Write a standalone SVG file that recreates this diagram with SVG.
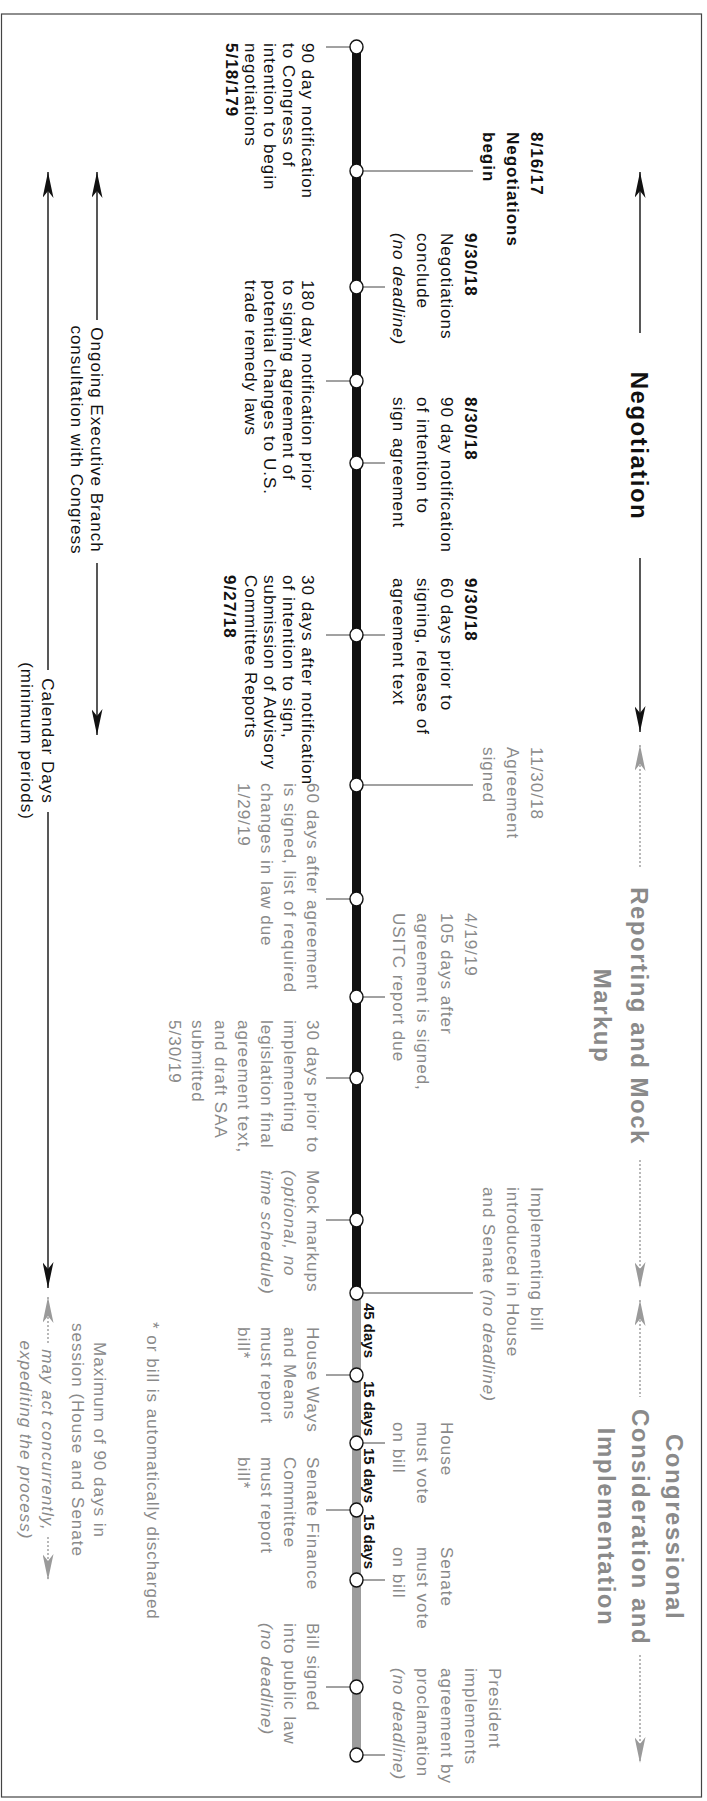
<svg xmlns="http://www.w3.org/2000/svg" width="707" height="1801" viewBox="0 0 707 1801">
<defs>
<style>
text { font-family: "Liberation Sans", Arial, sans-serif; }
.t { font-size: 17px; letter-spacing: 1px; fill: #111; }
.g { fill: #8a8a8a; }
.b { font-weight: bold; }
.i { font-style: italic; }
.ttl { font-size: 24px; font-weight: bold; letter-spacing: 1.5px; fill: #111; }
.ttlg { fill: #8a8a8a; }
.days { font-size: 15px; font-weight: bold; fill: #111; }
.lead { stroke: #444; stroke-width: 1; fill: none; }
.arr { stroke: #111; stroke-width: 1.4; fill: none; }
.arrg { stroke: #8a8a8a; stroke-width: 1.2; stroke-dasharray: 2 2; fill: none; }
.node { fill: #fff; stroke: #111; stroke-width: 1.4; }
</style>
<marker id="ah" viewBox="0 0 26 11" refX="26" refY="5.5" markerWidth="26" markerHeight="11" markerUnits="userSpaceOnUse" orient="auto-start-reverse"><path d="M0,0 L26,5.5 L0,11 L7,5.5 Z" fill="#111"/></marker>
<marker id="ahg" viewBox="0 0 26 11" refX="26" refY="5.5" markerWidth="26" markerHeight="11" markerUnits="userSpaceOnUse" orient="auto-start-reverse"><path d="M0,0 L26,5.5 L0,11 L7,5.5 Z" fill="#9a9a9a"/></marker>
</defs>
<rect x="1.5" y="14" width="700" height="1783" fill="#fff" stroke="#444" stroke-width="1.2"/>
<g transform="translate(707,0) rotate(90)">
  <g id="connectors">
    <!-- phase arrows (right side of screen) -->
    <line class="arr" x1="172" y1="67" x2="333" y2="67" marker-start="url(#ah)"/>
    <line class="arr" x1="558" y1="67" x2="732" y2="67" marker-end="url(#ah)"/>
    <line class="arrg" x1="745" y1="67" x2="868" y2="67" marker-start="url(#ahg)"/>
    <line class="arrg" x1="1160" y1="67" x2="1288" y2="67" marker-end="url(#ahg)"/>
    <line class="arrg" x1="1300" y1="67" x2="1397" y2="67" marker-start="url(#ahg)"/>
    <line class="arrg" x1="1655" y1="67" x2="1763" y2="67" marker-end="url(#ahg)"/>
    <!-- left side arrows -->
    <line class="arr" x1="172" y1="610" x2="320" y2="610" marker-start="url(#ah)"/>
    <line class="arr" x1="563" y1="610" x2="735" y2="610" marker-end="url(#ah)"/>
    <line class="arr" x1="172" y1="659" x2="670" y2="659" marker-start="url(#ah)"/>
    <line class="arr" x1="812" y1="659" x2="1288" y2="659" marker-end="url(#ah)"/>
    <line class="arrg" x1="1297" y1="659" x2="1343" y2="659" marker-start="url(#ahg)"/>
    <line class="arrg" x1="1537" y1="659" x2="1580" y2="659" marker-end="url(#ahg)"/>
    <!-- leaders -->
    <line class="lead" x1="47" y1="357" x2="47" y2="381"/>
    <line class="lead" x1="171" y1="344" x2="171" y2="234"/>
    <line class="lead" x1="287" y1="344" x2="287" y2="322"/>
    <line class="lead" x1="381" y1="357" x2="381" y2="381"/>
    <line class="lead" x1="463" y1="344" x2="463" y2="322"/>
    <line class="lead" x1="635" y1="344" x2="635" y2="322"/>
    <line class="lead" x1="635" y1="357" x2="635" y2="381"/>
    <line class="lead" x1="785" y1="344" x2="785" y2="234"/>
    <line class="lead" x1="899" y1="357" x2="899" y2="381"/>
    <line class="lead" x1="997" y1="344" x2="997" y2="322"/>
    <line class="lead" x1="1078" y1="357" x2="1078" y2="381"/>
    <line class="lead" x1="1220" y1="357" x2="1220" y2="381"/>
    <line class="lead" x1="1293" y1="344" x2="1293" y2="234"/>
    <line class="lead" x1="1375" y1="357" x2="1375" y2="381"/>
    <line class="lead" x1="1443" y1="344" x2="1443" y2="322"/>
    <line class="lead" x1="1510" y1="357" x2="1510" y2="381"/>
    <line class="lead" x1="1580" y1="344" x2="1580" y2="322"/>
    <line class="lead" x1="1687" y1="357" x2="1687" y2="381"/>
    <line class="lead" x1="1755" y1="344" x2="1755" y2="322"/>
  </g>
  <g id="timeline">
    <rect x="47" y="346" width="1246" height="9" fill="#111"/>
    <rect x="1293" y="346" width="462" height="9" fill="#9c9c9c"/>
  </g>
  <g id="titles">
    <text class="ttl" x="446" y="76" text-anchor="middle">Negotiation</text>
    <text class="ttl ttlg" x="1016" y="76" text-anchor="middle">Reporting and Mock</text>
    <text class="ttl ttlg" x="1016" y="113" text-anchor="middle">Markup</text>
    <text class="ttl ttlg" x="1527" y="41" text-anchor="middle">Congressional</text>
    <text class="ttl ttlg" x="1527" y="75" text-anchor="middle">Consideration and</text>
    <text class="ttl ttlg" x="1527" y="109" text-anchor="middle">Implementation</text>
  </g>
  <g id="side-labels">
    <text class="t" text-anchor="middle"><tspan x="440" y="616">Ongoing Executive Branch</tspan><tspan x="440" y="636">consultation with Congress</tspan></text>
    <text class="t" text-anchor="middle"><tspan x="741" y="665">Calendar Days</tspan><tspan x="741" y="686">(minimum periods)</tspan></text>
    <text class="t g" text-anchor="middle"><tspan x="1440" y="613">Maximum of 90 days in</tspan><tspan x="1440" y="635">session (House and Senate</tspan><tspan class="i" x="1440" y="665">may act concurrently,</tspan><tspan class="i" x="1440" y="687">expediting the process)</tspan></text>
    <text class="t g" x="1322" y="560">* or bill is automatically discharged</text>
  </g>
  <g id="days">
    <text class="days" x="1303" y="343">45 days</text>
    <text class="days" x="1381" y="343">15 days</text>
    <text class="days" x="1448" y="343">15 days</text>
    <text class="days" x="1514" y="343">15 days</text>
  </g>
  <g id="n01"><ellipse class="node" cx="47" cy="350.5" rx="7" ry="6.5"/>
    <text class="t"><tspan x="43" y="405">90 day notification</tspan><tspan x="43" y="424">to Congress of</tspan><tspan x="43" y="443">intention to begin</tspan><tspan x="43" y="462">negotiations</tspan><tspan class="b" x="43" y="481">5/18/179</tspan></text></g>
  <g id="n02"><ellipse class="node" cx="171" cy="350.5" rx="7" ry="6.5"/>
    <text class="t b"><tspan x="132" y="176">8/16/17</tspan><tspan x="132" y="200">Negotiations</tspan><tspan x="132" y="224">begin</tspan></text></g>
  <g id="n03"><ellipse class="node" cx="287" cy="350.5" rx="7" ry="6.5"/>
    <text class="t"><tspan class="b" x="233" y="242">9/30/18</tspan><tspan x="233" y="266">Negotiations</tspan><tspan x="233" y="290">conclude</tspan><tspan class="i" x="233" y="314">(no deadline)</tspan></text></g>
  <g id="n04"><ellipse class="node" cx="381" cy="350.5" rx="7" ry="6.5"/>
    <text class="t"><tspan x="280" y="405">180 day notification prior</tspan><tspan x="280" y="424">to signing agreement of</tspan><tspan x="280" y="443">potential changes to U.S.</tspan><tspan x="280" y="462">trade remedy laws</tspan></text></g>
  <g id="n05"><ellipse class="node" cx="463" cy="350.5" rx="7" ry="6.5"/>
    <text class="t"><tspan class="b" x="397" y="242">8/30/18</tspan><tspan x="397" y="266">90 day notification</tspan><tspan x="397" y="290">of intention to</tspan><tspan x="397" y="314">sign agreement</tspan></text></g>
  <g id="n06"><ellipse class="node" cx="635" cy="350.5" rx="7" ry="6.5"/>
    <text class="t"><tspan class="b" x="578" y="242">9/30/18</tspan><tspan x="578" y="266">60 days prior to</tspan><tspan x="578" y="290">signing, release of</tspan><tspan x="578" y="314">agreement text</tspan></text>
    <text class="t"><tspan x="575" y="405">30 days after notification</tspan><tspan x="575" y="424">of intention to sign,</tspan><tspan x="575" y="443">submission of Advisory</tspan><tspan x="575" y="462">Committee Reports</tspan><tspan class="b" x="575" y="483">9/27/18</tspan></text></g>
  <g id="n07"><ellipse class="node" cx="785" cy="350.5" rx="7" ry="6.5"/>
    <text class="t g"><tspan x="747" y="176">11/30/18</tspan><tspan x="747" y="200">Agreement</tspan><tspan x="747" y="224">signed</tspan></text></g>
  <g id="n08"><ellipse class="node" cx="899" cy="350.5" rx="7" ry="6.5"/>
    <text class="t g"><tspan x="783" y="400">60 days after agreement</tspan><tspan x="783" y="423">is signed, list of required</tspan><tspan x="783" y="446">changes in law due</tspan><tspan x="783" y="469">1/29/19</tspan></text></g>
  <g id="n09"><ellipse class="node" cx="997" cy="350.5" rx="7" ry="6.5"/>
    <text class="t g"><tspan x="913" y="242">4/19/19</tspan><tspan x="913" y="266">105 days after</tspan><tspan x="913" y="290">agreement is signed,</tspan><tspan x="913" y="314">USITC report due</tspan></text></g>
  <g id="n10"><ellipse class="node" cx="1078" cy="350.5" rx="7" ry="6.5"/>
    <text class="t g"><tspan x="1020" y="400">30 days prior to</tspan><tspan x="1020" y="423">implementing</tspan><tspan x="1020" y="446">legislation final</tspan><tspan x="1020" y="469">agreement text,</tspan><tspan x="1020" y="492">and draft SAA</tspan><tspan x="1020" y="515">submitted</tspan><tspan x="1020" y="538">5/30/19</tspan></text></g>
  <g id="n11"><ellipse class="node" cx="1220" cy="350.5" rx="7" ry="6.5"/>
    <text class="t g"><tspan x="1170" y="400">Mock markups</tspan><tspan class="i" x="1170" y="423">(optional, no</tspan><tspan class="i" x="1170" y="446">time schedule)</tspan></text></g>
  <g id="n12"><ellipse class="node" cx="1293" cy="350.5" rx="7" ry="6.5"/>
    <text class="t g"><tspan x="1187" y="176">Implementing bill</tspan><tspan x="1187" y="200">introduced in House</tspan><tspan x="1187" y="224">and Senate <tspan class="i">(no deadline)</tspan></tspan></text></g>
  <g id="n13"><ellipse class="node" cx="1375" cy="350.5" rx="7" ry="6.5"/>
    <text class="t g"><tspan x="1327" y="400">House Ways</tspan><tspan x="1327" y="423">and Means</tspan><tspan x="1327" y="446">must report</tspan><tspan x="1327" y="469">bill*</tspan></text></g>
  <g id="n14"><ellipse class="node" cx="1443" cy="350.5" rx="7" ry="6.5"/>
    <text class="t g"><tspan x="1422" y="266">House</tspan><tspan x="1422" y="290">must vote</tspan><tspan x="1422" y="314">on bill</tspan></text></g>
  <g id="n15"><ellipse class="node" cx="1510" cy="350.5" rx="7" ry="6.5"/>
    <text class="t g"><tspan x="1457" y="400">Senate Finance</tspan><tspan x="1457" y="423">Committee</tspan><tspan x="1457" y="446">must report</tspan><tspan x="1457" y="469">bill*</tspan></text></g>
  <g id="n16"><ellipse class="node" cx="1580" cy="350.5" rx="7" ry="6.5"/>
    <text class="t g"><tspan x="1547" y="266">Senate</tspan><tspan x="1547" y="290">must vote</tspan><tspan x="1547" y="314">on bill</tspan></text></g>
  <g id="n17"><ellipse class="node" cx="1687" cy="350.5" rx="7" ry="6.5"/>
    <text class="t g"><tspan x="1623" y="400">Bill signed</tspan><tspan x="1623" y="423">into public law</tspan><tspan class="i" x="1623" y="446">(no deadline)</tspan></text></g>
  <g id="n18"><ellipse class="node" cx="1755" cy="350.5" rx="7" ry="6.5"/>
    <text class="t g"><tspan x="1668" y="218">President</tspan><tspan x="1668" y="242">implements</tspan><tspan x="1668" y="266">agreement by</tspan><tspan x="1668" y="290">proclamation</tspan><tspan class="i" x="1668" y="314">(no deadline)</tspan></text></g>
</g>
</svg>
